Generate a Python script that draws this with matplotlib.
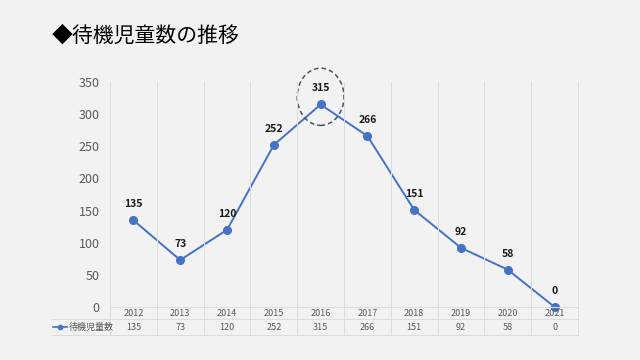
import matplotlib

matplotlib.use("Agg")
import matplotlib.pyplot as plt
from matplotlib.patches import Ellipse

plt.rcParams["font.family"] = ["Noto Sans CJK JP", "DejaVu Sans"]

years = ["2012", "2013", "2014", "2015", "2016", "2017", "2018", "2019", "2020", "2021"]
counts = [135, 73, 120, 252, 315, 266, 151, 92, 58, 0]
series_name = "待機児童数"
title = "◆待機児童数の推移"
yticks = [0, 50, 100, 150, 200, 250, 300, 350]

W, H = 640, 360
bg = "#f2f2f2"
blue = "#4472C4"
grid = "#dcdcdc"
gray = "#595959"

fig = plt.figure(figsize=(W / 100, H / 100), dpi=100, facecolor=bg)

# plot area in pixels
x0, x1, ytop, ybot = 110, 578, 82, 307
ax = fig.add_axes([x0 / W, (H - ybot) / H, (x1 - x0) / W, (ybot - ytop) / H])
ax.set_facecolor(bg)
n = len(years)
ax.set_xlim(-0.5, n - 0.5)
ax.set_ylim(0, 350)
for s in ax.spines.values():
    s.set_visible(False)
ax.set_xticks([])
ax.set_yticks(yticks)
ax.tick_params(axis="y", length=0, pad=7.5, labelsize=9, labelcolor=gray)

xs = list(range(n))
ax.plot(xs, counts, color=blue, lw=1.4, marker="o", ms=5.5, clip_on=False, zorder=3)
for x, v in zip(xs, counts):
    ax.annotate(str(v), (x, v), xytext=(0, 8), textcoords="offset points",
                ha="center", va="bottom", fontsize=7.5, fontweight="bold", color="#1a1a1a")

# highlight the peak
imax = counts.index(max(counts))
ax.add_patch(Ellipse((imax, counts[imax] + 12), 1.0, 89, fill=False, ls=(0, (3, 2)),
                     lw=1.1, ec="#44546A", clip_on=False, zorder=4))

# data table below the plot
tb = fig.add_axes([0, 0, 1, 1], facecolor="none")
tb.set_xlim(0, W)
tb.set_ylim(H, 0)
tb.axis("off")
step = (x1 - x0) / n
for i in range(n + 1):
    xb = x0 + i * step
    tb.plot([xb, xb], [ytop, 335], color=grid, lw=0.7, zorder=0)
tb.plot([x0, x1], [ybot, ybot], color=grid, lw=0.7)
tb.plot([52, x1], [319, 319], color=grid, lw=0.7)
tb.plot([52, x1], [335, 335], color=grid, lw=0.7)
for i, (yr, v) in enumerate(zip(years, counts)):
    xc = x0 + (i + 0.5) * step
    tb.text(xc, 313, yr, ha="center", va="center", fontsize=6.5, color=gray)
    tb.text(xc, 327, str(v), ha="center", va="center", fontsize=6.5, color=gray)
tb.plot([53, 67], [327, 327], color=blue, lw=1.2)
tb.plot([60], [327], marker="o", ms=3, color=blue)
tb.text(69, 327, series_name, ha="left", va="center", fontsize=6.5, color=gray)

fig.text(52 / W, 1 - 36 / H, title, ha="left", va="center", fontsize=15, color="black")

fig.savefig("out.png", dpi=100, facecolor=bg)
